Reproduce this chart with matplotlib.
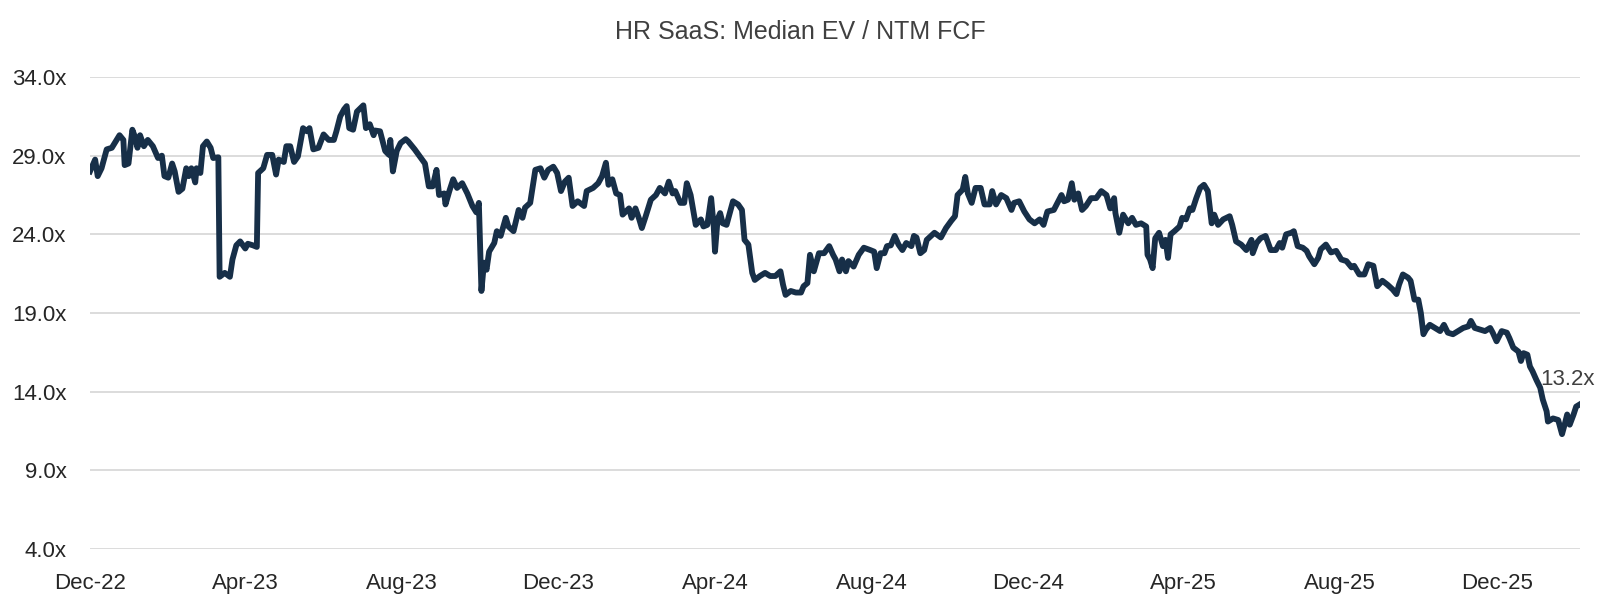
import matplotlib
matplotlib.use("Agg")
import matplotlib.pyplot as plt
import matplotlib.dates as mdates
import pandas as pd

# Median EV / NTM FCF, HR SaaS basket
dates = [
    "2022-12-01", "2022-12-05", "2022-12-07", "2022-12-10", "2022-12-14", "2022-12-18", "2022-12-21",
    "2022-12-24", "2022-12-27", "2022-12-28", "2022-12-31", "2023-01-03", "2023-01-05", "2023-01-07",
    "2023-01-09", "2023-01-12", "2023-01-15", "2023-01-19", "2023-01-23", "2023-01-26", "2023-01-28",
    "2023-01-31", "2023-02-03", "2023-02-05", "2023-02-08", "2023-02-11", "2023-02-14", "2023-02-16",
    "2023-02-18", "2023-02-21", "2023-02-22", "2023-02-25", "2023-02-27", "2023-03-02", "2023-03-05",
    "2023-03-07", "2023-03-11", "2023-03-12", "2023-03-16", "2023-03-20", "2023-03-22", "2023-03-25",
    "2023-03-28", "2023-04-01", "2023-04-03", "2023-04-07", "2023-04-10", "2023-04-11", "2023-04-15",
    "2023-04-18", "2023-04-22", "2023-04-25", "2023-04-27", "2023-05-01", "2023-05-03", "2023-05-06",
    "2023-05-09", "2023-05-12", "2023-05-16", "2023-05-19", "2023-05-21", "2023-05-24", "2023-05-28",
    "2023-06-01", "2023-06-05", "2023-06-09", "2023-06-11", "2023-06-14", "2023-06-17", "2023-06-19",
    "2023-06-21", "2023-06-24", "2023-06-27", "2023-07-02", "2023-07-04", "2023-07-07", "2023-07-10",
    "2023-07-11", "2023-07-15", "2023-07-19", "2023-07-22", "2023-07-23", "2023-07-25", "2023-07-28",
    "2023-07-31", "2023-08-04", "2023-08-06", "2023-08-11", "2023-08-15", "2023-08-19", "2023-08-22",
    "2023-08-25", "2023-08-28", "2023-08-30", "2023-09-03", "2023-09-04", "2023-09-07", "2023-09-10",
    "2023-09-13", "2023-09-17", "2023-09-21", "2023-09-25", "2023-09-28", "2023-09-30", "2023-10-02",
    "2023-10-04", "2023-10-06", "2023-10-08", "2023-10-12", "2023-10-14", "2023-10-17", "2023-10-21",
    "2023-10-23", "2023-10-27", "2023-10-31", "2023-11-03", "2023-11-05", "2023-11-09", "2023-11-13",
    "2023-11-17", "2023-11-20", "2023-11-23", "2023-11-27", "2023-11-30", "2023-12-03", "2023-12-06",
    "2023-12-09", "2023-12-12", "2023-12-16", "2023-12-21", "2023-12-23", "2023-12-28", "2024-01-01",
    "2024-01-04", "2024-01-07", "2024-01-09", "2024-01-12", "2024-01-15", "2024-01-18", "2024-01-20",
    "2024-01-25", "2024-01-27", "2024-01-30", "2024-02-02", "2024-02-04", "2024-02-07", "2024-02-11",
    "2024-02-15", "2024-02-18", "2024-02-22", "2024-02-25", "2024-02-28", "2024-03-01", "2024-03-05",
    "2024-03-08", "2024-03-10", "2024-03-13", "2024-03-17", "2024-03-21", "2024-03-23", "2024-03-26",
    "2024-03-29", "2024-03-31", "2024-04-01", "2024-04-03", "2024-04-05", "2024-04-07", "2024-04-10",
    "2024-04-15", "2024-04-19", "2024-04-22", "2024-04-24", "2024-04-27", "2024-04-30", "2024-05-02",
    "2024-05-06", "2024-05-10", "2024-05-14", "2024-05-18", "2024-05-22", "2024-05-24", "2024-05-26",
    "2024-05-30", "2024-06-03", "2024-06-07", "2024-06-09", "2024-06-12", "2024-06-14", "2024-06-17",
    "2024-06-21", "2024-06-25", "2024-06-29", "2024-07-02", "2024-07-04", "2024-07-07", "2024-07-09",
    "2024-07-12", "2024-07-14", "2024-07-18", "2024-07-22", "2024-07-26", "2024-07-31", "2024-08-03",
    "2024-08-05", "2024-08-08", "2024-08-11", "2024-08-13", "2024-08-16", "2024-08-19", "2024-08-22",
    "2024-08-25", "2024-08-28", "2024-09-01", "2024-09-03", "2024-09-05", "2024-09-08", "2024-09-11",
    "2024-09-13", "2024-09-19", "2024-09-24", "2024-09-28", "2024-10-02", "2024-10-05", "2024-10-07",
    "2024-10-11", "2024-10-13", "2024-10-15", "2024-10-18", "2024-10-21", "2024-10-25", "2024-10-28",
    "2024-11-01", "2024-11-03", "2024-11-06", "2024-11-10", "2024-11-14", "2024-11-18", "2024-11-20",
    "2024-11-24", "2024-11-28", "2024-12-02", "2024-12-06", "2024-12-10", "2024-12-13", "2024-12-16",
    "2024-12-21", "2024-12-27", "2024-12-29", "2025-01-01", "2025-01-04", "2025-01-06", "2025-01-09",
    "2025-01-12", "2025-01-15", "2025-01-19", "2025-01-23", "2025-01-27", "2025-01-31", "2025-02-03",
    "2025-02-06", "2025-02-07", "2025-02-10", "2025-02-13", "2025-02-17", "2025-02-20", "2025-02-23",
    "2025-02-27", "2025-03-03", "2025-03-04", "2025-03-06", "2025-03-08", "2025-03-10", "2025-03-13",
    "2025-03-16", "2025-03-18", "2025-03-20", "2025-03-22", "2025-03-25", "2025-03-29", "2025-03-31",
    "2025-04-03", "2025-04-06", "2025-04-08", "2025-04-11", "2025-04-14", "2025-04-17", "2025-04-20",
    "2025-04-23", "2025-04-25", "2025-04-28", "2025-05-02", "2025-05-07", "2025-05-09", "2025-05-12",
    "2025-05-16", "2025-05-20", "2025-05-24", "2025-05-25", "2025-05-28", "2025-05-31", "2025-06-04",
    "2025-06-08", "2025-06-12", "2025-06-15", "2025-06-17", "2025-06-20", "2025-06-24", "2025-06-26",
    "2025-06-29", "2025-07-03", "2025-07-06", "2025-07-08", "2025-07-12", "2025-07-15", "2025-07-17",
    "2025-07-21", "2025-07-25", "2025-07-29", "2025-08-02", "2025-08-06", "2025-08-10", "2025-08-12",
    "2025-08-16", "2025-08-20", "2025-08-23", "2025-08-27", "2025-08-30", "2025-09-03", "2025-09-07",
    "2025-09-11", "2025-09-14", "2025-09-16", "2025-09-19", "2025-09-23", "2025-09-25", "2025-09-28",
    "2025-10-01", "2025-10-03", "2025-10-05", "2025-10-07", "2025-10-10", "2025-10-14", "2025-10-18",
    "2025-10-21", "2025-10-24", "2025-10-28", "2025-11-01", "2025-11-05", "2025-11-09", "2025-11-11",
    "2025-11-14", "2025-11-18", "2025-11-22", "2025-11-26", "2025-11-28", "2025-12-01", "2025-12-05",
    "2025-12-09", "2025-12-11", "2025-12-14", "2025-12-18", "2025-12-20", "2025-12-22", "2025-12-25",
    "2025-12-27", "2025-12-29", "2026-01-01", "2026-01-04", "2026-01-06", "2026-01-09", "2026-01-10",
    "2026-01-14", "2026-01-18", "2026-01-21", "2026-01-23", "2026-01-25", "2026-01-27", "2026-01-30",
    "2026-02-01", "2026-02-04",
]
ev_fcf = [
    28.0, 28.75, 27.7, 28.2, 29.4, 29.5, 29.9,
    30.3, 30.0, 28.4, 28.5, 30.65, 30.2, 29.5,
    30.3, 29.6, 30.0, 29.6, 28.85, 29.0, 27.7,
    27.6, 28.5, 28.0, 26.7, 26.9, 28.2, 27.7,
    28.2, 27.3, 28.2, 27.9, 29.6, 29.9, 29.5,
    28.85, 28.9, 21.3, 21.55, 21.3, 22.4, 23.3,
    23.55, 23.1, 23.4, 23.3, 23.2, 27.9, 28.2,
    29.05, 29.05, 27.8, 28.75, 28.6, 29.6, 29.6,
    28.6, 28.95, 30.75, 30.55, 30.75, 29.4, 29.5,
    30.35, 30.0, 30.0, 30.55, 31.5, 31.95, 32.15,
    30.75, 30.65, 31.8, 32.2, 30.75, 31.0, 30.3,
    30.6, 30.55, 29.3, 29.05, 30.0, 28.0, 29.3,
    29.8, 30.05, 29.9, 29.4, 28.95, 28.5, 27.05,
    27.05, 28.1, 26.5, 26.6, 25.9, 26.75, 27.5,
    26.95, 27.25, 26.6, 25.8, 25.4, 26.0, 20.4,
    22.2, 21.75, 22.9, 23.45, 24.2, 23.9, 25.05,
    24.5, 24.2, 25.55, 25.05, 25.7, 26.0, 28.1,
    28.2, 27.6, 28.1, 28.3, 27.9, 26.75, 27.35,
    27.6, 25.8, 26.1, 25.8, 26.75, 26.95, 27.25,
    27.7, 28.55, 27.15, 27.5, 26.6, 26.5, 25.25,
    25.65, 25.05, 25.65, 24.95, 24.4, 25.15, 26.2,
    26.5, 26.95, 26.6, 27.35, 26.6, 26.75, 26.0,
    26.0, 27.25, 26.5, 24.6, 24.95, 24.5, 24.6,
    26.3, 24.5, 22.9, 24.95, 25.35, 24.7, 24.6,
    26.1, 25.9, 25.55, 23.65, 23.35, 21.55, 21.1,
    21.35, 21.55, 21.35, 21.35, 21.65, 20.8, 20.15,
    20.4, 20.3, 20.3, 20.7, 20.9, 22.7, 21.65,
    22.8, 22.8, 23.25, 22.7, 22.4, 21.65, 22.4,
    21.65, 22.3, 21.95, 22.7, 23.15, 23.0, 22.9,
    21.85, 22.8, 22.8, 23.25, 23.3, 23.9, 23.35,
    23.0, 23.45, 23.25, 23.9, 23.8, 22.8, 23.0,
    23.65, 24.1, 23.8, 24.4, 24.85, 25.15, 26.5,
    26.85, 27.65, 26.6, 26.0, 26.95, 26.95, 25.9,
    25.9, 26.75, 25.9, 26.5, 26.3, 25.55, 26.0,
    26.1, 25.45, 24.95, 24.7, 24.95, 24.6, 25.45,
    25.55, 26.5, 26.1, 26.2, 27.25, 26.2, 26.6,
    25.55, 25.8, 26.3, 26.3, 26.75, 26.5, 25.65,
    26.3, 25.35, 24.1, 25.25, 24.7, 25.05, 24.6,
    24.7, 24.5, 22.7, 22.4, 21.85, 23.75, 24.1,
    23.25, 23.65, 22.5, 24.0, 24.2, 24.5, 25.05,
    24.95, 25.65, 25.55, 26.3, 26.95, 27.15, 26.75,
    24.7, 25.25, 24.6, 24.95, 25.15, 24.6, 23.55,
    23.35, 23.0, 23.65, 22.8, 23.45, 23.75, 23.9,
    23.0, 23.0, 23.45, 23.15, 24.0, 24.1, 24.2,
    23.25, 23.15, 22.95, 22.6, 22.1, 22.5, 23.05,
    23.35, 22.85, 22.95, 22.4, 22.3, 21.9, 22.0,
    21.45, 21.45, 22.1, 22.0, 20.7, 21.05, 20.8,
    20.5, 20.2, 20.8, 21.45, 21.25, 21.05, 19.85,
    19.85, 19.0, 17.65, 17.95, 18.25, 18.05, 17.85,
    18.25, 17.75, 17.65, 17.85, 18.05, 18.15, 18.5,
    18.05, 17.95, 17.85, 18.05, 17.75, 17.2, 17.85,
    17.75, 17.4, 16.8, 16.55, 15.95, 16.45, 16.35,
    15.6, 15.3, 14.75, 14.25, 13.5, 12.75, 12.1,
    12.3, 12.2, 11.3, 11.9, 12.55, 11.9, 12.55,
    13.05, 13.2,
]
tick_months = ["2022-12-01", "2023-04-01", "2023-08-01", "2023-12-01", "2024-04-01",
               "2024-08-01", "2024-12-01", "2025-04-01", "2025-08-01", "2025-12-01"]
y_ticks = [4, 9, 14, 19, 24, 29, 34]

plt.rcParams['font.family'] = ['Liberation Sans', 'DejaVu Sans']

x = pd.to_datetime(dates)

fig = plt.figure(figsize=(16, 6.08), dpi=100)
ax = fig.add_axes([0.05625, 1 - 549 / 608, 0.93125, (549 - 77) / 608])

ax.plot(x, ev_fcf, color='#172f48', linewidth=4.2, solid_joinstyle='round', zorder=3)

ax.set_ylim(4, 34)
ax.set_xlim(x[0], x[-1])
ax.set_yticks(y_ticks)
ax.set_yticklabels([f"{v:.1f}x" for v in y_ticks])
ax.set_xticks(pd.to_datetime(tick_months))
ax.xaxis.set_major_formatter(mdates.DateFormatter('%b-%y'))

ax.grid(axis='y', color='#d9d9d9', linewidth=1.3)
ax.set_axisbelow(True)
for s in ax.spines.values():
    s.set_visible(False)
ax.tick_params(axis='both', length=0, labelsize=16, colors='#262626')
ax.tick_params(axis='y', pad=17)
ax.tick_params(axis='x', pad=17)

fig.text(0.5, 1 - 32 / 608, "HR SaaS: Median EV / NTM FCF", ha='center', va='center',
         fontsize=18, color='#404040')

ax.annotate(f"{ev_fcf[-1]:.1f}x", xy=(x[-1], ev_fcf[-1]), xytext=(-40, 25),
            textcoords='offset pixels', ha='left', va='center', fontsize=16,
            color='#404040', annotation_clip=False)

fig.savefig('out.png', dpi=100)
